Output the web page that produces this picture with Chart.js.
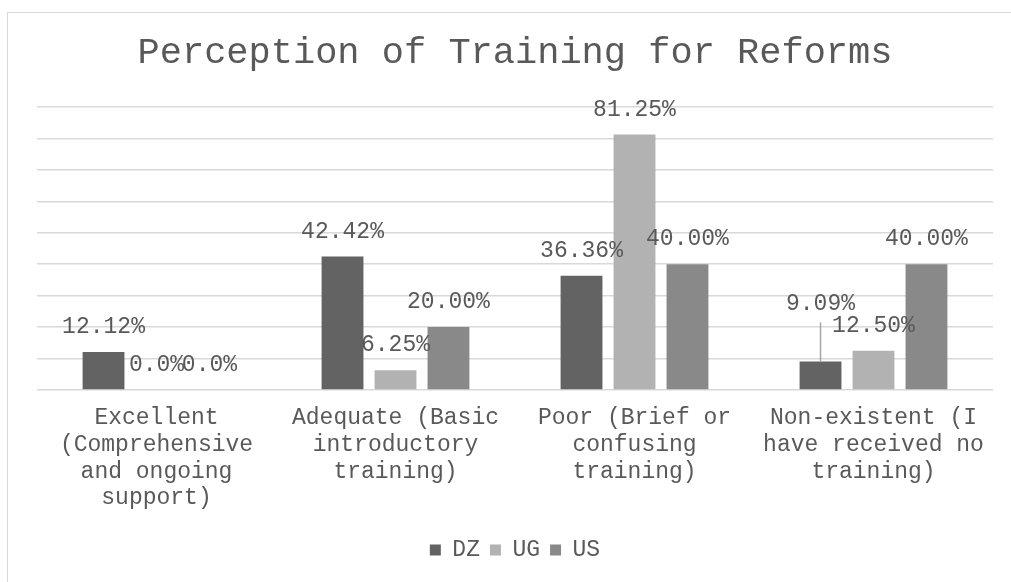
<!DOCTYPE html>
<html>
<head>
<meta charset="utf-8">
<script src="https://cdn.jsdelivr.net/npm/chart.js@4.4.1/dist/chart.umd.min.js"></script>
<style>
  html, body { margin: 0; padding: 0; background: #ffffff; overflow: hidden; }
  #frame { position: absolute; left: 7px; top: 12px; width: 1100px; height: 700px; border: 1px solid #d9d9d9; box-sizing: border-box; }
  #wrap { position: absolute; left: 0; top: 0; width: 1011px; height: 582px; }
</style>
</head>
<body>
<div id="frame"></div>
<div id="wrap"><canvas id="c" width="1011" height="582"></canvas></div>
<script>
const categories = [
  ["Excellent", "(Comprehensive", "and ongoing", "support)"],
  ["Adequate (Basic", "introductory", "training)"],
  ["Poor (Brief or", "confusing", "training)"],
  ["Non-existent (I", "have received no", "training)"]
];
const seriesNames = ["DZ", "UG", "US"];
const dzValues = [12.12, 42.42, 36.36, 9.09];
const ugValues = [0.0, 6.25, 81.25, 12.50];
const usValues = [0.0, 20.00, 40.00, 40.00];
const yTicks = [0, 10, 20, 30, 40, 50, 60, 70, 80, 90];

const FONT = "'Liberation Mono', 'Courier New', monospace";
const TEXT = '#595959';

function fmt(v) { return v === 0 ? '0.0%' : v.toFixed(2) + '%'; }

const labelPlugin = {
  id: 'barLabels',
  afterDatasetsDraw(chart, args, opts) {
    const ctx = chart.ctx;
    ctx.save();
    ctx.font = '23px ' + FONT;
    ctx.fillStyle = TEXT;
    ctx.textAlign = 'center';
    ctx.textBaseline = 'middle';
    chart.data.datasets.forEach((ds, di) => {
      const meta = chart.getDatasetMeta(di);
      meta.data.forEach((bar, i) => {
        const special = (opts.callouts || []).find(c => c.d === di && c.i === i);
        const dy = special ? special.dy : opts.offset;
        const ty = bar.y - dy;
        if (special) {
          ctx.strokeStyle = '#a6a6a6';
          ctx.lineWidth = 1.5;
          ctx.beginPath();
          ctx.moveTo(bar.x, ty + 19);
          ctx.lineTo(bar.x, bar.y);
          ctx.stroke();
        }
        ctx.fillText(fmt(ds.data[i]), bar.x, ty);
      });
    });
    ctx.restore();
  }
};

new Chart(document.getElementById('c'), {
  type: 'bar',
  data: {
    labels: categories,
    datasets: [
      { label: seriesNames[0], data: dzValues, backgroundColor: '#636363' },
      { label: seriesNames[1], data: ugValues, backgroundColor: '#b2b2b2' },
      { label: seriesNames[2], data: usValues, backgroundColor: '#898989' }
    ]
  },
  options: {
    responsive: false,
    animation: false,
    events: [],
    barPercentage: 0.79,
    categoryPercentage: 0.665,
    layout: { padding: { left: 37, right: 18, top: 0, bottom: 10.5 } },
    scales: {
      x: {
        grid: { display: false, drawTicks: false },
        border: { display: false },
        ticks: {
          color: TEXT,
          font: { family: FONT, size: 23, lineHeight: 1.16 },
          padding: 15,
          maxRotation: 0,
          minRotation: 0,
          autoSkip: false
        },
        afterFit: s => { s.height = 138.5; }
      },
      y: {
        min: 0,
        max: 90,
        afterBuildTicks: s => { s.ticks = yTicks.map(v => ({ value: v })); },
        grid: { color: '#d9d9d9', lineWidth: 1.5, drawTicks: false },
        border: { display: false },
        ticks: { display: false },
        afterFit: s => { s.width = 0; }
      }
    },
    plugins: {
      title: {
        display: true,
        text: 'Perception of Training for Reforms',
        color: TEXT,
        font: { family: FONT, size: 37, weight: 'normal', lineHeight: 1.2 },
        padding: { top: 31, bottom: 31.6 }
      },
      legend: {
        position: 'bottom',
        labels: {
          color: TEXT,
          font: { family: FONT, size: 23 },
          boxWidth: 11,
          boxHeight: 11,
          padding: 10
        }
      },
      tooltip: { enabled: false },
      barLabels: { offset: 25, callouts: [{ d: 0, i: 3, dy: 58 }] }
    }
  },
  plugins: [labelPlugin]
});
</script>
</body>
</html>
